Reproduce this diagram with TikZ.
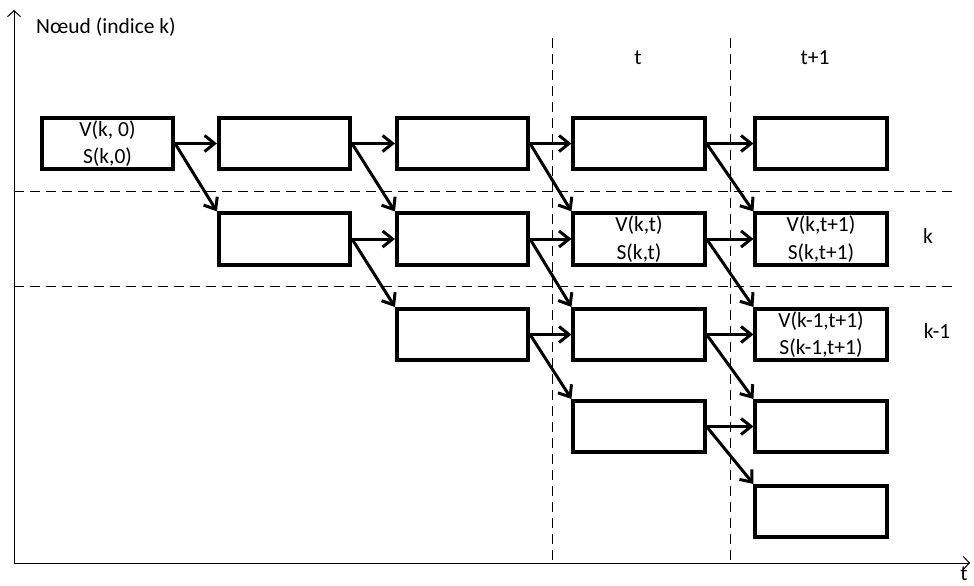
\documentclass[tikz,border=0pt]{standalone}
\usepackage{fontspec}
\setmainfont{Carlito}
\usetikzlibrary{arrows.meta}
\begin{document}
\begin{tikzpicture}[x=1pt,y=-1pt,
  font=\fontsize{21.5}{27.5}\selectfont,
  cell/.style={draw, line width=3.6pt, minimum width=131.5pt, minimum height=51.5pt, inner sep=0pt, align=center},
  link/.style={line width=3pt, -{Straight Barb[length=10pt,width=16pt,line width=3pt]}},
  grid/.style={line width=1pt, dash pattern=on 10pt off 6pt},
  axis/.style={line width=1pt, -{Straight Barb[length=6pt,width=13pt,line width=1pt]}},
  lbl/.style={inner sep=0pt}]
\useasboundingbox (0,0) rectangle (974,586);
% grid lines
\coordinate (v1a) at (552,38); \coordinate (v1b) at (552,563);
\coordinate (v2a) at (730,38); \coordinate (v2b) at (730,563);
\coordinate (h1a) at (14,191); \coordinate (h1b) at (958,191);
\coordinate (h2a) at (14,286); \coordinate (h2b) at (958,286);
\draw[grid] (v1a) -- (v1b);
\draw[grid] (v2a) -- (v2b);
\draw[grid] (h1a) -- (h1b);
\draw[grid] (h2a) -- (h2b);
% axes
\coordinate (o) at (14,563);
\coordinate (xend) at (970,563);
\coordinate (yend) at (14,10);
\draw[axis] (o) -- (xend);
\draw[axis] (o) -- (yend);
\node[lbl] (ylab) at (106,27) {Nœud (indice k)};
\node[lbl] (xlab) at (964,574) {t};
\node[lbl] (tl) at (638,58) {t};
\node[lbl] (t1l) at (815,58) {t+1};
\node[lbl] (kl) at (928,236) {k};
\node[lbl] (k1l) at (937,331) {k-1};
% boxes
\node[cell] (A) at (107.5,143.5) {V(k, 0)\\S(k,0)};
\node[cell] (B) at (284.5,143.5) {};
\node[cell] (C) at (462.5,143.5) {};
\node[cell] (D) at (639,143.5) {};
\node[cell] (E) at (821,143.5) {};
\node[cell] (F) at (284.5,239) {};
\node[cell] (G) at (462.5,239) {};
\node[cell] (H) at (639,239) {V(k,t)\\S(k,t)};
\node[cell] (I) at (821,239) {V(k,t+1)\\S(k,t+1)};
\node[cell] (J) at (462.5,334.5) {};
\node[cell] (K) at (639,334.5) {};
\node[cell] (L) at (821,334.5) {V(k-1,t+1)\\S(k-1,t+1)};
\node[cell] (M) at (639,426.5) {};
\node[cell] (N) at (821,426.5) {};
\node[cell] (O) at (821,511.5) {};
% horizontal links
\foreach \s/\t in {A/B,B/C,C/D,D/E,F/G,G/H,H/I,J/K,K/L,M/N}
  \draw[link] (\s.east) -- (\t.west);
% diagonal links
\foreach \s/\t in {A/F,B/G,C/H,D/I,F/J,G/K,H/L,J/M,K/N,M/O}
  \draw[link] (\s.east) -- (\t.north west);
\end{tikzpicture}
\end{document}
